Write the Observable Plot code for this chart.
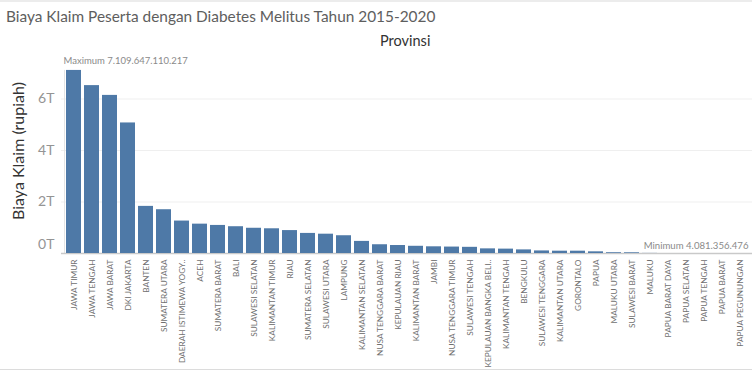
<!DOCTYPE html>
<html>
<head>
<meta charset="utf-8">
<script src="https://cdn.jsdelivr.net/npm/d3@7"></script>
<script src="https://cdn.jsdelivr.net/npm/@observablehq/plot@0.6"></script>
<style>
  html, body { margin: 0; padding: 0; background: #fff; }
  #wrap { position: relative; width: 752px; height: 371px; overflow: hidden; font-family: Lato, "Open Sans", sans-serif; }
  #topline { position: absolute; left: 0; top: 0; width: 752px; height: 2px; background: #ececec; }
  #botline { position: absolute; left: 0; top: 369px; width: 752px; height: 1px; background: #dcdcdc; }
  #title { position: absolute; left: 6px; top: 7px; font-size: 15.4px; color: #5e5e5e; white-space: nowrap; }
  #header { position: absolute; left: 380px; top: 32px; font-size: 14.5px; color: #333; white-space: nowrap; }
  #chart { position: absolute; left: 0; top: 0; }
</style>
</head>
<body>
<div id="wrap">
  <div id="chart"></div>
  <div id="topline"></div>
  <div id="botline"></div>
  <div id="title">Biaya Klaim Peserta dengan Diabetes Melitus Tahun 2015-2020</div>
  <div id="header">Provinsi</div>
</div>
<script>
const provinces = [
  "JAWA TIMUR", "JAWA TENGAH", "JAWA BARAT", "DKI JAKARTA", "BANTEN",
  "SUMATERA UTARA", "DAERAH ISTIMEWA YOGY..", "ACEH", "SUMATERA BARAT", "BALI",
  "SULAWESI SELATAN", "KALIMANTAN TIMUR", "RIAU", "SUMATERA SELATAN", "SULAWESI UTARA",
  "LAMPUNG", "KALIMANTAN SELATAN", "NUSA TENGGARA BARAT", "KEPULAUAN RIAU", "KALIMANTAN BARAT",
  "JAMBI", "NUSA TENGGARA TIMUR", "SULAWESI TENGAH", "KEPULAUAN BANGKA BELI..", "KALIMANTAN TENGAH",
  "BENGKULU", "SULAWESI TENGGARA", "KALIMANTAN UTARA", "GORONTALO", "PAPUA",
  "MALUKU UTARA", "SULAWESI BARAT", "MALUKU", "PAPUA BARAT DAYA", "PAPUA SELATAN",
  "PAPUA TENGAH", "PAPUA BARAT", "PAPUA PEGUNUNGAN"
];
const biayaKlaim = [
  7109647110217, 6520000000000, 6140000000000, 5070000000000, 1830000000000,
  1700000000000, 1260000000000, 1140000000000, 1090000000000, 1040000000000,
  980000000000, 960000000000, 890000000000, 780000000000, 750000000000,
  690000000000, 470000000000, 340000000000, 310000000000, 280000000000,
  260000000000, 250000000000, 240000000000, 180000000000, 170000000000,
  140000000000, 100000000000, 90000000000, 90000000000, 65000000000,
  30000000000, 28000000000, 4081356476, null, null,
  null, null, null
];
const yTicks = [0, 2e12, 4e12, 6e12];
const yTickLabels = ["0T", "2T", "4T", "6T"];

const data = provinces.map((p, i) => ({provinsi: p, nilai: biayaKlaim[i]}));
const vals = biayaKlaim.filter(v => v != null);
const maxV = d3.max(vals), minV = d3.min(vals);
const idFmt = d3.formatLocale({decimal: ",", thousands: ".", grouping: [3], currency: ["Rp", ""]}).format(",d");

const plot = Plot.plot({
  width: 752,
  height: 371,
  marginLeft: 61,
  marginRight: 0,
  marginTop: 67.6,
  marginBottom: 118,
  style: {fontFamily: "Lato, 'Open Sans', sans-serif", background: "transparent"},
  x: {domain: provinces, paddingInner: 0.17, paddingOuter: 0.05, label: null},
  y: {domain: [0, 7.2e12], label: null},
  marks: [
    Plot.ruleY(yTicks.slice(1), {stroke: "#efefef", strokeWidth: 1}),
    Plot.ruleX([0], {x: () => provinces[0], stroke: "#e4e4e4", dx: -9.5, y1: 0, y2: maxV}),
    Plot.ruleY([minV], {stroke: "#c9c9c9", strokeWidth: 1.5}),
    Plot.barY(data.filter(d => d.nilai != null), {x: "provinsi", y: "nilai", fill: "#4e79a7"}),
    Plot.ruleY([maxV], {stroke: "#a8a8a8", strokeWidth: 1.5, x1: provinces[0], x2: provinces[provinces.length - 1]}),
    Plot.axisY(yTicks.slice(1), {tickSize: 0, tickPadding: 7, tickFormat: d => yTickLabels[yTicks.indexOf(d)], fontSize: 14, fill: "#949494", color: "#949494"}),
    Plot.text([yTicks[0]], {y: d => d, frameAnchor: "left", text: d => yTickLabels[yTicks.indexOf(d)], textAnchor: "end", dx: -7, dy: -9, fontSize: 14, fill: "#949494"}),
    Plot.axisX({tickSize: 0, tickPadding: 6, tickRotate: -90, fontSize: 8.3, fill: "#707070", color: "#707070"}),
    Plot.text([maxV], {y: d => d, frameAnchor: "left", text: d => "Maximum " + idFmt(d), textAnchor: "start", dx: 2, dy: -9, fontSize: 9.5, fill: "#8a8a8a"}),
    Plot.text([minV], {y: d => d, frameAnchor: "right", text: d => "Minimum " + idFmt(d), textAnchor: "end", dx: -4, dy: -7, fontSize: 9.6, fill: "#8a8a8a"})
  ]
});
document.getElementById("chart").appendChild(plot);

// y axis title
const svg = d3.select(plot);
svg.append("text")
  .attr("transform", "translate(24,151) rotate(-90)")
  .attr("text-anchor", "middle")
  .attr("font-size", 16)
  .attr("fill", "#333")
  .attr("font-family", "Lato, 'Open Sans', sans-serif")
  .text("Biaya Klaim (rupiah)");
</script>
</body>
</html>
